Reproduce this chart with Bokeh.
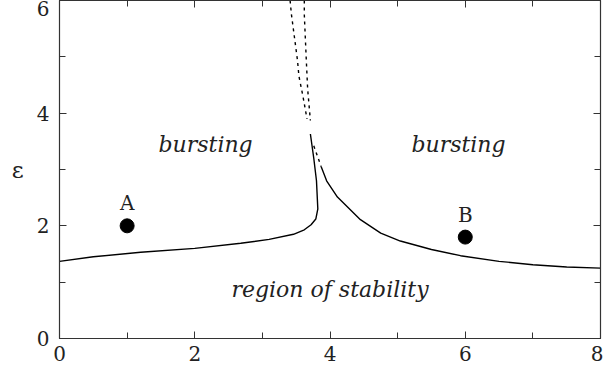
from bokeh.plotting import figure
from bokeh.models import LinearAxis, SingleIntervalTicker, Label
from bokeh.embed import file_html
from bokeh.resources import INLINE
from bokeh.core.properties import value

# Left stability boundary (solid) rising into the cusp
left_alpha = [0.0, 0.5, 1.2, 2.0, 2.68, 3.1, 3.46, 3.62, 3.72, 3.79, 3.82, 3.80, 3.76, 3.71]
left_eps = [1.37, 1.45, 1.53, 1.60, 1.69, 1.76, 1.85, 1.93, 2.02, 2.12, 2.30, 2.80, 3.20, 3.63]

# Right stability boundary (solid)
right_alpha = [3.87, 3.95, 4.11, 4.45, 4.75, 5.04, 5.5, 5.93, 6.5, 7.0, 7.5, 8.0]
right_eps = [3.05, 2.80, 2.51, 2.11, 1.87, 1.73, 1.58, 1.47, 1.37, 1.31, 1.27, 1.25]

# Dashed continuations
rdash_alpha = [3.76, 3.87]
rdash_eps = [3.42, 3.05]
up1_alpha = [3.41, 3.43, 3.52, 3.54, 3.60, 3.66]
up1_eps = [6.0, 5.75, 4.93, 4.66, 4.30, 3.90]
up2_alpha = [3.62, 3.62, 3.65, 3.67, 3.71]
up2_eps = [6.0, 5.75, 4.93, 4.42, 3.87]

# Marked points
pt_alpha = [1.0, 6.0]
pt_eps = [2.0, 1.8]
pt_names = ["A", "B"]

# Region labels
reg_alpha = [2.16, 5.9, 4.0]
reg_eps = [3.45, 3.45, 0.87]
reg_text = ["bursting", "bursting", "region of stability"]

SERIF = "DejaVu Serif"
TXT = "#222222"
AX = "#333333"

p = figure(width=603, height=383, output_backend="svg", toolbar_location=None,
           x_range=(0, 8), y_range=(0, 6), x_axis_type=None, y_axis_type=None,
           min_border_left=59, min_border_right=3, min_border_top=0, min_border_bottom=45)
p.grid.visible = False
p.outline_line_color = AX
p.outline_line_width = 1.2

def make_axis(labels):
    ax = LinearAxis(ticker=SingleIntervalTicker(interval=2, num_minor_ticks=2))
    ax.axis_line_color = AX
    ax.major_tick_line_color = AX
    ax.minor_tick_line_color = AX
    ax.major_tick_in = 7
    ax.major_tick_out = 0
    ax.minor_tick_in = 6
    ax.minor_tick_out = 0
    if labels:
        ax.major_label_text_font = SERIF
        ax.major_label_text_font_size = "20px"
        ax.major_label_text_color = TXT
    else:
        ax.major_label_text_font_size = "0px"
        ax.major_label_standoff = 0
    return ax

xb = make_axis(True)
xb.major_label_standoff = 7
p.add_layout(xb, "below")
yl = make_axis(True)
yl.major_label_standoff = 10
yl.axis_label = "ε"
yl.axis_label_orientation = "horizontal"
yl.axis_label_text_font = SERIF
yl.axis_label_text_font_style = "normal"
yl.axis_label_text_font_size = "23px"
yl.axis_label_text_color = TXT
yl.axis_label_standoff = 10
p.add_layout(yl, "left")
p.add_layout(make_axis(False), "above")
p.add_layout(make_axis(False), "right")

# curves
p.line(left_alpha, left_eps, line_color="black", line_width=1.4)
p.line(right_alpha, right_eps, line_color="black", line_width=1.4)
for xs, ys in [(rdash_alpha, rdash_eps), (up1_alpha, up1_eps), (up2_alpha, up2_eps)]:
    p.line(xs, ys, line_color="black", line_width=1.4, line_dash="3 4")

# points
p.scatter(pt_alpha, pt_eps, size=14, color="black")
p.text(pt_alpha, [e + 0.4 for e in pt_eps], text=pt_names,
       text_font=value(SERIF), text_font_size="20px", text_align="center",
       text_baseline="middle", text_color=TXT)

# region labels
p.text(reg_alpha, reg_eps, text=reg_text, text_font=value(SERIF), text_font_size="22px",
       text_font_style="italic", text_align="center", text_baseline="middle",
       text_color=TXT)

# x axis label (offset to the right as in the original)
p.add_layout(Label(x=4.45, y=-0.52, text="α", text_font=SERIF, text_font_size="24px",
                   text_align="center", text_baseline="middle", text_color=TXT))

open("out.html", "w").write(file_html(p, INLINE))
